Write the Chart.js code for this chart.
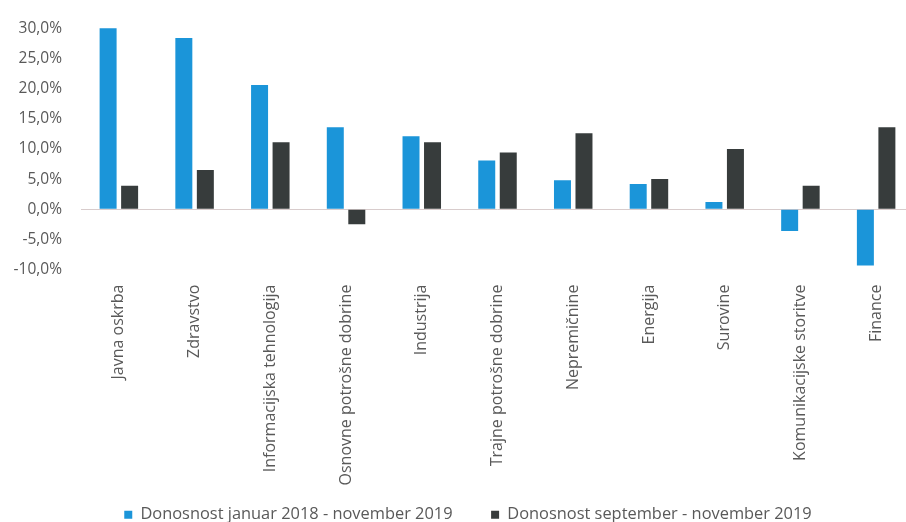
<!DOCTYPE html>
<html>
<head>
<meta charset="utf-8">
<script src="https://cdn.jsdelivr.net/npm/chart.js@4/dist/chart.umd.min.js"></script>
<style>
  html, body { margin: 0; padding: 0; background: #ffffff; overflow: hidden; }
  #wrap { position: relative; width: 920px; height: 522px; }
</style>
</head>
<body>
<div id="wrap"><canvas id="c" width="920" height="522"></canvas></div>
<script>
// Sector returns (%)
const sectors = [
  'Javna oskrba', 'Zdravstvo', 'Informacijska tehnologija', 'Osnovne potrošne dobrine',
  'Industrija', 'Trajne potrošne dobrine', 'Nepremičnine', 'Energija',
  'Surovine', 'Komunikacijske storitve', 'Finance'
];
const returnLong = [30.1, 28.4, 20.6, 13.6, 12.1, 8.1, 4.8, 4.2, 1.2, -3.6, -9.3];
const returnShort = [3.9, 6.5, 11.1, -2.5, 11.1, 9.4, 12.6, 5.0, 10.0, 3.9, 13.6];
const seriesNames = ['Donosnost januar 2018 - november 2019', 'Donosnost september - november 2019'];
const yTicks = [-10, -5, 0, 5, 10, 15, 20, 25, 30];

const textColor = '#595959';
const fontFamily = '"Open Sans", "DejaVu Sans", sans-serif';

// legend row: small sideways offset
const legendTweak = {
  id: 'legendTweak',
  afterUpdate(chart) {
    const lg = chart.legend;
    if (!lg) return;
    lg.left += 11; lg.right += 11;
  }
};

new Chart(document.getElementById('c'), {
  type: 'bar',
  data: {
    labels: sectors,
    datasets: [
      { label: seriesNames[0], data: returnLong, backgroundColor: '#1b95d9',
        categoryPercentage: 0.568, barPercentage: 0.79 },
      { label: seriesNames[1], data: returnShort, backgroundColor: '#373c3c',
        categoryPercentage: 0.568, barPercentage: 0.79 }
    ]
  },
  options: {
    responsive: false,
    animation: false,
    layout: { padding: { top: 26, right: 6, left: 0, bottom: -11 } },
    plugins: {
      tooltip: { enabled: false },
      legend: {
        position: 'bottom',
        labels: {
          boxWidth: 8, boxHeight: 8, padding: 3,
          color: textColor,
          font: { family: fontFamily, size: 16.4 },
          generateLabels(chart) {
            const items = Chart.defaults.plugins.legend.labels.generateLabels(chart);
            items.forEach((it, i) => { if (i < items.length - 1) it.text += '\u2003\u2003\u2009'; });
            return items;
          }
        }
      }
    },
    scales: {
      x: {
        afterFit(scale) { scale.height = 234; },
        grid: { display: false, drawTicks: false },
        border: { display: false },
        ticks: {
          minRotation: 90, maxRotation: 90, autoSkip: false, padding: 15,
          color: textColor, font: { family: fontFamily, size: 16 }
        }
      },
      y: {
        min: -10, max: 30,
        afterBuildTicks(scale) { scale.ticks = yTicks.map(v => ({ value: v })); },
        afterFit(scale) { scale.width = 81; },
        grid: {
          drawTicks: false,
          color: ctx => (ctx.tick && ctx.tick.value === 0) ? '#d8cccc' : 'rgba(0,0,0,0)',
          lineWidth: 1
        },
        border: { display: false },
        ticks: {
          padding: 19,
          color: textColor,
          font: { family: fontFamily, size: 15.5 },
          callback: v => v.toFixed(1).replace('.', ',') + '%'
        }
      }
    }
  },
  plugins: [legendTweak]
});
</script>
</body>
</html>
